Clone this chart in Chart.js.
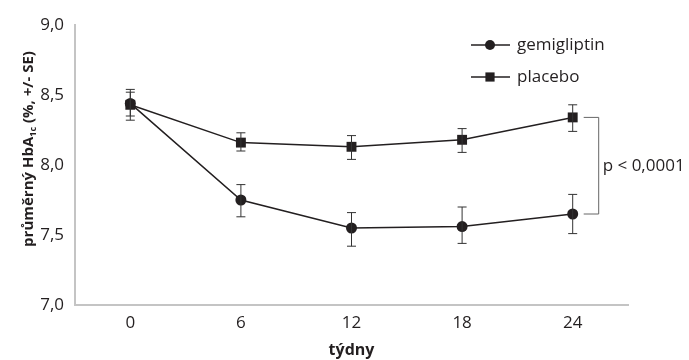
<!DOCTYPE html>
<html>
<head>
<meta charset="utf-8">
<script src="https://cdn.jsdelivr.net/npm/chart.js@4"></script>
<style>
  html, body { margin: 0; padding: 0; background: #fff; }
  #wrap { position: relative; width: 689px; height: 360px; }
</style>
</head>
<body>
<div id="wrap"><canvas id="chart" width="689" height="360"></canvas></div>
<script>
// Data
const weeks = ['0', '6', '12', '18', '24'];
const gemigliptin = [8.44, 7.75, 7.55, 7.56, 7.65];
const gemiHigh = [8.52, 7.86, 7.66, 7.70, 7.79];
const gemiLow = [8.35, 7.63, 7.42, 7.44, 7.51];
const placebo = [8.43, 8.16, 8.13, 8.18, 8.34];
const placeboHigh = [8.54, 8.23, 8.21, 8.26, 8.43];
const placeboLow = [8.32, 8.10, 8.04, 8.09, 8.24];
const yTicks = [7.0, 7.5, 8.0, 8.5, 9.0];
const pLabel = 'p < 0,0001';

const FONT = '"Open Sans", "Noto Sans", sans-serif';
const INK = '#231f20';
const AXIS = '#c4c4c4';

// Error bars for both series
const errorBars = {
  id: 'errorBars',
  afterDatasetsDraw(chart) {
    const { ctx, scales: { x, y } } = chart;
    const sets = [[gemiHigh, gemiLow], [placeboHigh, placeboLow]];
    ctx.save();
    ctx.strokeStyle = '#333';
    ctx.lineWidth = 1;
    sets.forEach(([hi, lo]) => {
      weeks.forEach((w, i) => {
        const px = x.getPixelForValue(i);
        const top = y.getPixelForValue(hi[i]);
        const bot = y.getPixelForValue(lo[i]);
        ctx.beginPath();
        ctx.moveTo(px, top); ctx.lineTo(px, bot);
        ctx.moveTo(px - 4.5, top); ctx.lineTo(px + 4.5, top);
        ctx.moveTo(px - 4.5, bot); ctx.lineTo(px + 4.5, bot);
        ctx.stroke();
      });
    });
    ctx.restore();
  }
};

// Bracket with p value, legend and y title with subscript
const annotations = {
  id: 'annotations',
  afterDraw(chart) {
    const { ctx, scales: { x, y } } = chart;
    const last = weeks.length - 1;
    const px = x.getPixelForValue(last);
    const yTop = y.getPixelForValue(placebo[last]);
    const yBot = y.getPixelForValue(gemigliptin[last]);
    ctx.save();
    ctx.strokeStyle = '#666';
    ctx.lineWidth = 1;
    ctx.beginPath();
    ctx.moveTo(px + 11, yTop); ctx.lineTo(px + 26, yTop);
    ctx.lineTo(px + 26, yBot); ctx.lineTo(px + 11, yBot);
    ctx.stroke();
    ctx.fillStyle = INK;
    ctx.font = '17px ' + FONT;
    ctx.textBaseline = 'middle';
    ctx.textAlign = 'left';
    ctx.fillText(pLabel, px + 30, (yTop + yBot) / 2);

    // legend
    const items = [
      { label: 'gemigliptin', style: 'circle', r: 5 },
      { label: 'placebo', style: 'rect', r: 6.5 }
    ];
    items.forEach((it, i) => {
      const ly = 45 + i * 32;
      ctx.strokeStyle = INK;
      ctx.lineWidth = 1.5;
      ctx.beginPath();
      ctx.moveTo(471, ly); ctx.lineTo(510, ly);
      ctx.stroke();
      ctx.fillStyle = INK;
      Chart.helpers.drawPoint(ctx, { pointStyle: it.style, radius: it.r, borderWidth: 0 }, 490, ly);
      ctx.fillStyle = INK;
      ctx.fillText(it.label, 517, ly);
    });

    // y title
    const big = 'bold 15px ' + FONT;
    const small = 'bold 9px ' + FONT;
    const p1 = 'průměrný HbA', sub = '1c', p2 = ' (%, +/- SE)';
    ctx.font = big; const w1 = ctx.measureText(p1).width; const w3 = ctx.measureText(p2).width;
    ctx.font = small; const w2 = ctx.measureText(sub).width;
    const total = w1 + w2 + w3;
    ctx.translate(29, 149);
    ctx.rotate(-Math.PI / 2);
    ctx.textAlign = 'left';
    ctx.textBaseline = 'middle';
    let cx = -total / 2;
    ctx.font = big; ctx.fillText(p1, cx, 0); cx += w1;
    ctx.font = small; ctx.fillText(sub, cx, 4); cx += w2;
    ctx.font = big; ctx.fillText(p2, cx, 0);
    ctx.restore();
  }
};

new Chart(document.getElementById('chart'), {
  type: 'line',
  data: {
    labels: weeks,
    datasets: [
      {
        label: 'gemigliptin',
        data: gemigliptin,
        borderColor: INK,
        backgroundColor: INK,
        borderWidth: 1.5,
        pointStyle: 'circle',
        pointRadius: 5.5,
        pointBorderWidth: 0,
        tension: 0
      },
      {
        label: 'placebo',
        data: placebo,
        borderColor: INK,
        backgroundColor: INK,
        borderWidth: 1.5,
        pointStyle: 'rect',
        pointRadius: 7,
        pointBorderWidth: 0,
        tension: 0
      }
    ]
  },
  options: {
    responsive: false,
    animation: false,
    layout: { padding: { top: 25, right: 61, left: 0, bottom: 0 } },
    plugins: { legend: { display: false }, tooltip: { enabled: false } },
    scales: {
      x: {
        type: 'category',
        offset: true,
        afterFit: (axis) => { axis.height = 55; },
        grid: { display: false, drawTicks: false, offset: true },
        border: { color: AXIS, width: 2 },
        ticks: { color: INK, font: { family: FONT, size: 17 }, padding: 8 },
        title: { display: true, text: 'týdny', color: INK, font: { family: FONT, size: 16, weight: 'bold' }, padding: { top: 2, bottom: 0 } }
      },
      y: {
        min: 7,
        max: 9,
        afterBuildTicks: (axis) => { axis.ticks = yTicks.map(v => ({ value: v })); },
        afterFit: (axis) => { axis.width = 75; },
        grid: { display: false, drawTicks: true, tickLength: 5, tickColor: AXIS },
        border: { color: AXIS, width: 2 },
        ticks: {
          color: INK,
          font: { family: FONT, size: 17 },
          padding: 6,
          callback: (v) => v.toFixed(1).replace('.', ',')
        }
      }
    }
  },
  plugins: [errorBars, annotations]
});
</script>
</body>
</html>
